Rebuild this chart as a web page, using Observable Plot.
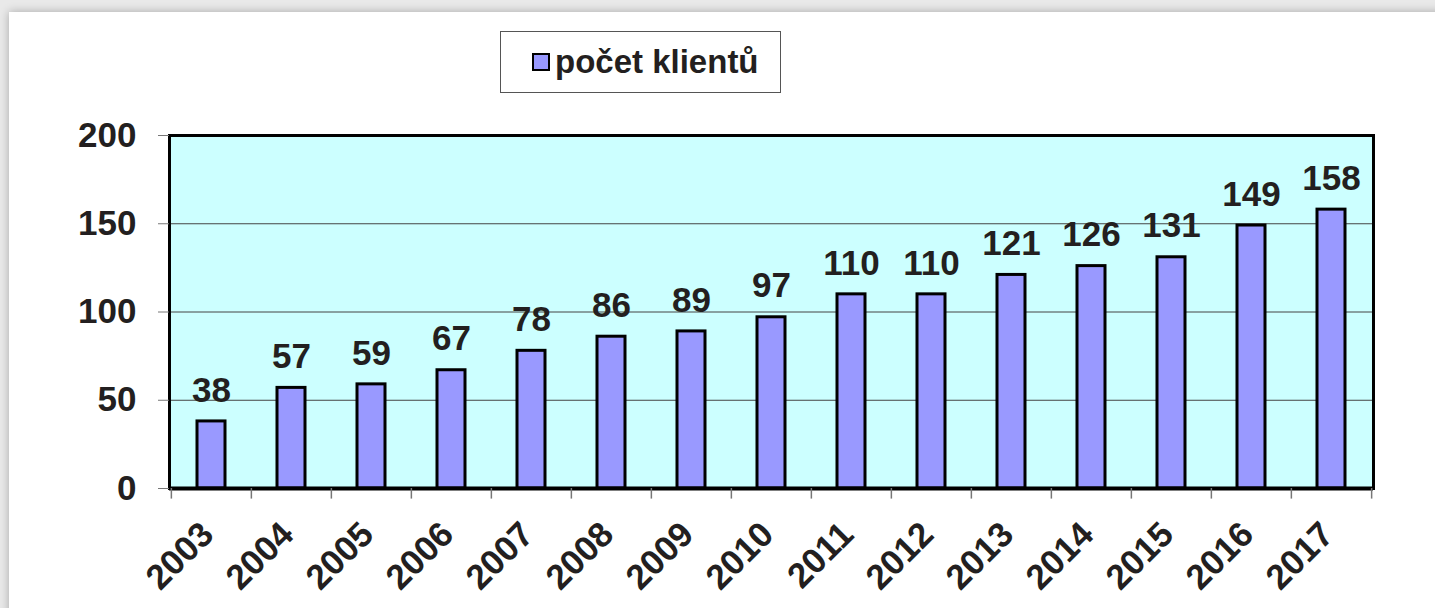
<!DOCTYPE html>
<html>
<head>
<meta charset="utf-8">
<script src="https://cdn.jsdelivr.net/npm/d3@7"></script>
<script src="https://cdn.jsdelivr.net/npm/@observablehq/plot@0.6"></script>
<style>
  html, body { margin: 0; padding: 0; width: 1435px; height: 608px; overflow: hidden; background: #e9e9e9; font-family: "Liberation Sans", Arial, sans-serif; }
  #card { position: absolute; left: 9px; top: 12px; width: 1500px; height: 700px; background: #fff; box-shadow: 0 0 9px rgba(0,0,0,0.28); }
  #legend { position: absolute; left: 500px; top: 31px; width: 279px; height: 60px; border: 1.5px solid #555; background: #fff; display: flex; align-items: center; box-sizing: content-box; }
  #legend .sw { width: 14px; height: 14px; background: #9999ff; border: 2.5px solid #000; margin-left: 31px; margin-right: 5px; }
  #legend .lab { font-size: 33px; font-weight: bold; color: #231f20; }
  #chart { position: absolute; left: 0; top: 0; }
</style>
</head>
<body>
<div id="card"></div>
<div id="chart"></div>
<div id="legend"><div class="sw"></div><div class="lab">počet klientů</div></div>
<script>
const years = ["2003","2004","2005","2006","2007","2008","2009","2010","2011","2012","2013","2014","2015","2016","2017"];
const clients = [38,57,59,67,78,86,89,97,110,110,121,126,131,149,158];
const yTicks = [0,50,100,150,200];
const gridValues = [50,100,150];
const seriesName = "počet klientů";

const data = years.map((y, i) => ({year: y, value: clients[i]}));

const W = 1435, H = 608;
const mL = 169, mR = 62, mT = 135, mB = 120;
const step = (W - mL - mR) / years.length;
const textColor = "#231f20";

const chart = Plot.plot({
  width: W,
  height: H,
  marginLeft: mL,
  marginRight: mR,
  marginTop: mT,
  marginBottom: mB,
  style: {background: "transparent", fontFamily: "'Liberation Sans', Arial, sans-serif", overflow: "visible"},
  x: {domain: years, paddingInner: 0.65, paddingOuter: 0.325, label: null},
  y: {domain: [0, 200], label: null},
  marks: [
    Plot.frame({fill: "#ccffff", stroke: null}),
    Plot.ruleY(gridValues, {stroke: "#444", strokeWidth: 1}),
    Plot.barY(data, {x: "year", y: "value", fill: "#9999ff", stroke: "#000", strokeWidth: 3}),
    Plot.text(data, {x: "year", y: "value", text: d => String(d.value), dy: -31, lineAnchor: "middle", fontSize: 35, fontWeight: "bold", fill: textColor}),
    Plot.frame({stroke: "#000", strokeWidth: 3}),
    Plot.ruleY([0], {stroke: "#000", strokeWidth: 4}),
    Plot.ruleX(years, {x: d => d, dx: -step / 2, y1: 0, y2: -6, stroke: "#777", strokeWidth: 1.5}),
    Plot.ruleX(years.slice(-1), {x: d => d, dx: step / 2, y1: 0, y2: -6, stroke: "#777", strokeWidth: 1.5}),
    Plot.axisY({ticks: yTicks, tickSize: 11, tickPadding: 22, fontSize: 35, fontWeight: "bold", stroke: "#777", color: textColor, tickFormat: d => String(d)}),
    Plot.axisX({tickRotate: -45, tickSize: 0, tickPadding: 40, dx: -4, fontSize: 35, fontWeight: "bold", color: textColor})
  ]
});
document.getElementById("chart").appendChild(chart);
</script>
</body>
</html>
